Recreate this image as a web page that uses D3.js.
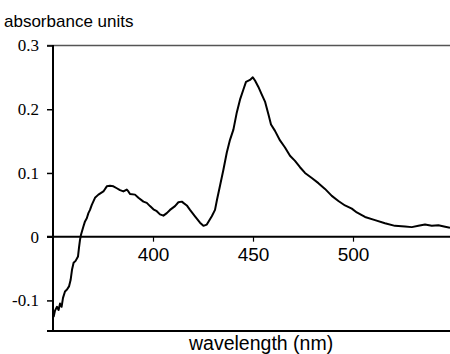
<!DOCTYPE html>
<html><head><meta charset="utf-8">
<script src="https://cdn.jsdelivr.net/npm/d3@7/dist/d3.min.js"></script>
<style>body{margin:0;background:#fff}svg{display:block}</style>
</head><body><svg id="c" width="450" height="354"></svg>
<script>
const wavelengths = [350.3,351,352,352.8,353.5,354.3,355,356,357,358,358.8,359.5,360.3,361.3,362.5,363,363.5,364,
365.2,366,366.9,367.7,368.5,369.4,371,372.7,375.2,376.9,378.5,380.2,381.9,383.5,385.2,386.9,387.7,388.5,391,392.7,
395.2,396.9,398.5,400.2,401.9,403.5,405.2,406.9,408.5,411,412.7,414.4,415.2,416.9,418.5,421,423.5,425.2,426.9,429.4,
431,432,433.5,435.2,436.9,438.5,440.2,441.9,443.5,445.2,446.5,448.5,449.9,451,452.7,454.4,456,457.7,459,461,463.5,
466,468.5,471,473.5,476,479.4,482.7,486,489.4,492.7,496,499.4,501.9,506,511,516,521,526,529.4,532.7,536,539.4,542.7,545.5,548.5];
const absorbance = [-0.126,-0.116,-0.110,-0.115,-0.105,-0.110,-0.096,-0.086,-0.083,-0.078,-0.068,-0.052,-0.041,-0.038,-0.031,-0.017,-0.005,0.003,
0.016,0.024,0.029,0.037,0.042,0.050,0.061,0.066,0.071,0.079,0.080,0.079,0.076,0.073,0.071,0.074,0.071,0.067,0.066,0.061,
0.055,0.053,0.048,0.043,0.040,0.035,0.033,0.037,0.042,0.048,0.054,0.055,0.053,0.049,0.042,0.032,0.022,0.017,0.019,0.032,
0.042,0.058,0.080,0.105,0.132,0.152,0.168,0.195,0.215,0.231,0.243,0.246,0.250,0.245,0.235,0.223,0.212,0.192,0.176,0.166,0.151,
0.140,0.127,0.119,0.109,0.100,0.092,0.084,0.075,0.064,0.056,0.049,0.044,0.038,0.031,0.026,0.021,0.017,0.016,0.015,0.017,0.019,0.017,0.018,0.016,0.014];
const xTicks = [400, 450, 500];
const yTicks = [-0.1, 0, 0.1, 0.2, 0.3];
const yTickLabels = ["-0.1", "0", "0.1", "0.2", "0.3"];
const xLabel = "wavelength (nm)";
const yLabel = "absorbance units";

const svg = d3.select("#c");
const x = d3.scaleLinear().domain([350, 548.5]).range([53, 450]);
const y = d3.scaleLinear().domain([-0.148, 0.3]).range([331, 45.5]);

// top frame line (0.3)
svg.append("line").attr("x1", 47).attr("x2", 450).attr("y1", y(0.3)).attr("y2", y(0.3))
  .attr("stroke", "#555").attr("stroke-width", 1.5);
// bottom frame line
svg.append("line").attr("x1", 47).attr("x2", 450).attr("y1", 331).attr("y2", 331)
  .attr("stroke", "#000").attr("stroke-width", 2);

// y axis
const yAxis = d3.axisLeft(y).tickValues(yTicks).tickSize(6).tickPadding(8)
  .tickFormat((d, i) => yTickLabels[i]);
const gy = svg.append("g").attr("transform", "translate(53,0)").call(yAxis)
  .attr("font-family", null).attr("font-size", null);
gy.select(".domain").remove();
gy.selectAll(".tick line").attr("stroke", "#000").attr("stroke-width", 1.5);
gy.selectAll(".tick text")
  .style("font-family", "'Liberation Serif', 'Times New Roman', Times, serif")
  .style("font-size", "17px").attr("fill", "#000");
svg.append("line").attr("x1", 53).attr("x2", 53).attr("y1", 45).attr("y2", 331)
  .attr("stroke", "#000").attr("stroke-width", 2);

// x axis at zero
const xAxis = d3.axisBottom(x).tickValues(xTicks).tickSize(5).tickPadding(6).tickFormat(d3.format("d"));
const gx = svg.append("g").attr("transform", `translate(0,${y(0)})`).call(xAxis)
  .attr("font-family", null).attr("font-size", null);
gx.select(".domain").remove();
gx.selectAll(".tick line").attr("stroke", "#000").attr("stroke-width", 1.2);
gx.selectAll(".tick text")
  .style("font-family", "'Liberation Sans', Arial, sans-serif")
  .style("font-size", "19px").attr("fill", "#000");
svg.append("line").attr("x1", 47).attr("x2", 450).attr("y1", y(0)).attr("y2", y(0))
  .attr("stroke", "#000").attr("stroke-width", 2);

// curve
const data = wavelengths.map((w, i) => [w, absorbance[i]]);
svg.append("path").datum(data)
  .attr("d", d3.line().x(d => x(d[0])).y(d => y(d[1])))
  .attr("fill", "none").attr("stroke", "#000").attr("stroke-width", 2)
  .attr("stroke-linejoin", "round");

// labels
svg.append("text").attr("x", 4).attr("y", 27).text(yLabel)
  .style("font-family", "'Liberation Sans', Arial, sans-serif").style("font-size", "17px").attr("fill", "#000");
svg.append("text").attr("x", 189).attr("y", 350).text(xLabel)
  .style("font-family", "'Liberation Sans', Arial, sans-serif").style("font-size", "19.5px").attr("fill", "#000");
</script></body></html>
